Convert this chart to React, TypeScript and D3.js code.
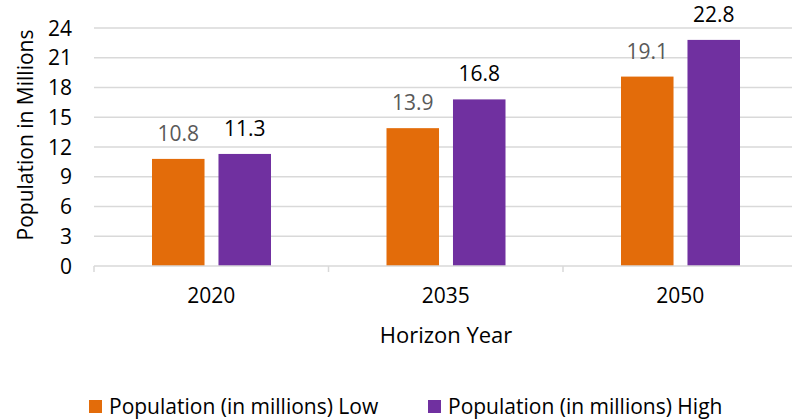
import React from 'react';
import * as d3 from 'd3';

const years = ['2020', '2035', '2050'];
const lowValues = [10.8, 13.9, 19.1];
const highValues = [11.3, 16.8, 22.8];
const seriesNames = ['Population (in millions) Low', 'Population (in millions) High'];
const seriesColors = ['#E36C0A', '#7030A0'];
const labelColors = ['#595959', '#000000'];
const yTicks = [0, 3, 6, 9, 12, 15, 18, 21, 24];

const W = 792;
const H = 419;
const FONT = "'Open Sans', sans-serif";
const FS = 21;

export default function App() {
  const x = d3.scaleBand<string>().domain(years).range([94, 797.5]);
  const y = d3.scaleLinear().domain([0, 24]).range([266, 28]);
  const inner = d3.scaleBand<number>().domain([0, 1]).range([58, 177]).paddingInner(0.21);

  const series = [lowValues, highValues];

  return (
    <svg width={W} height={H} style={{ position: 'absolute', left: 0, top: 0, background: '#fff' }} fontFamily={FONT}>
      {/* gridlines */}
      {yTicks.slice(1).map(t => (
        <line key={t} x1={94} x2={W} y1={y(t)} y2={y(t)} stroke="#d9d9d9" strokeWidth={1.5} />
      ))}
      {/* y tick labels */}
      {yTicks.map(t => (
        <text key={t} x={72} y={y(t)} dy="0.36em" textAnchor="end" fontSize={FS} fill="#000">{t}</text>
      ))}
      {/* bars */}
      {years.map((yr, i) => (
        <g key={yr} transform={`translate(${x(yr)},0)`}>
          {series.map((vals, s) => (
            <g key={s}>
              <rect x={inner(s)} y={y(vals[i])} width={inner.bandwidth()} height={y(0) - y(vals[i])} fill={seriesColors[s]} />
              <text x={(inner(s) || 0) + inner.bandwidth() / 2} y={y(vals[i]) - 18} textAnchor="middle" fontSize={FS} fill={labelColors[s]}>{vals[i]}</text>
            </g>
          ))}
        </g>
      ))}
      {/* x axis */}
      <line x1={94} x2={W} y1={y(0)} y2={y(0)} stroke="#d9d9d9" strokeWidth={1.5} />
      {years.map(yr => (
        <line key={yr} x1={x(yr)} x2={x(yr)} y1={y(0)} y2={y(0) + 6} stroke="#d9d9d9" strokeWidth={1.5} />
      ))}
      {years.map(yr => (
        <text key={yr} x={(x(yr) || 0) + x.bandwidth() / 2} y={303} textAnchor="middle" fontSize={FS} fill="#000">{yr}</text>
      ))}
      {/* axis titles */}
      <text x={446} y={343} textAnchor="middle" fontSize={22} fill="#000">Horizon Year</text>
      <text transform="translate(33,135) rotate(-90)" textAnchor="middle" fontSize={FS} fill="#000">Population in Millions</text>
      {/* legend */}
      {seriesNames.map((n, s) => {
        const lx = s === 0 ? 89 : 428;
        return (
          <g key={n}>
            <rect x={lx} y={400} width={13} height={13} fill={seriesColors[s]} />
            <text x={lx + 20} y={414} fontSize={FS} fill="#000">{n}</text>
          </g>
        );
      })}
    </svg>
  );
}
